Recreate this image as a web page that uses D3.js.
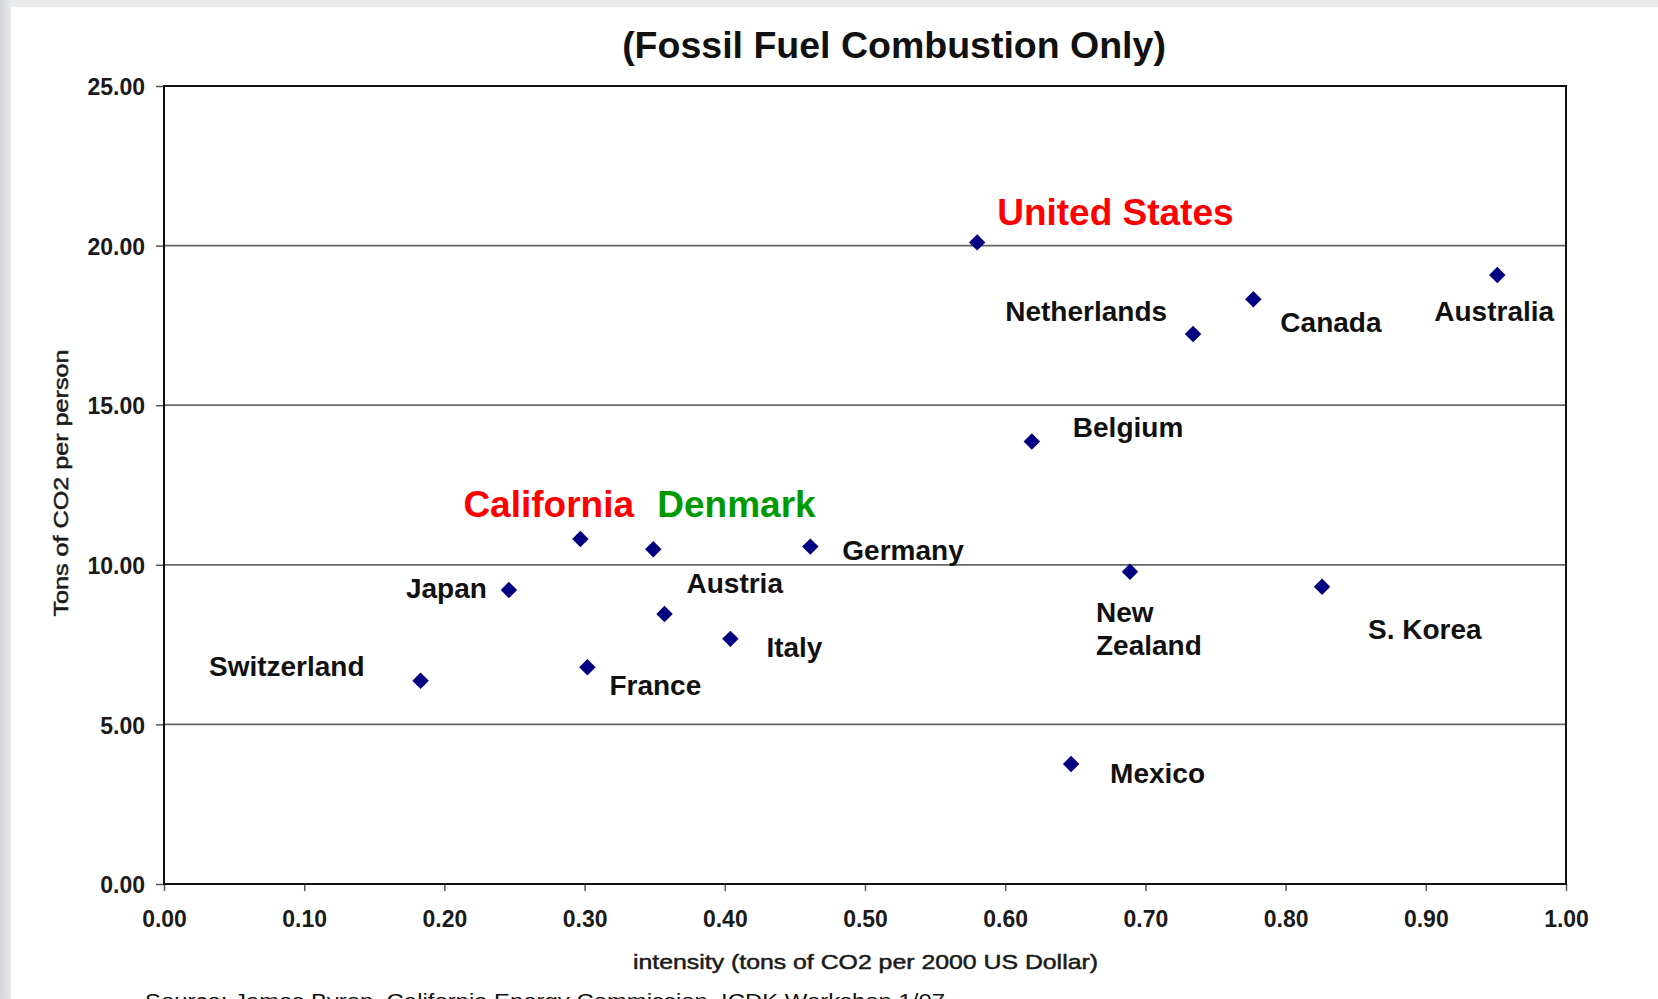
<!DOCTYPE html>
<html>
<head>
<meta charset="utf-8">
<script src="https://d3js.org/d3.v7.min.js"></script>
<style>
  body { margin: 0; background: #fff; overflow: hidden; }
  text { font-family: "Liberation Sans", Arial, sans-serif; }
</style>
</head>
<body>
<div id="chart"></div>
<script>
// Data
const countries = ["United States", "Australia", "Canada", "Netherlands", "Belgium",
    "California", "Denmark", "Germany", "New Zealand", "Japan", "S. Korea",
    "Austria", "Italy", "France", "Switzerland", "Mexico"];
const intensity = [0.580, 0.951, 0.777, 0.734, 0.619,
    0.297, 0.349, 0.461, 0.689, 0.246, 0.826,
    0.357, 0.404, 0.302, 0.183, 0.647];
const perCapita = [20.10, 19.08, 18.32, 17.23, 13.86,
    10.81, 10.49, 10.57, 9.78, 9.21, 9.31,
    8.46, 7.68, 6.79, 6.37, 3.76];
const xTicks = [0, 0.1, 0.2, 0.3, 0.4, 0.5, 0.6, 0.7, 0.8, 0.9, 1.0];
const yTicks = [0, 5, 10, 15, 20, 25];

// Label placement relative to each marker (layout only)
const labelPos = {
    "United States": { dx: 20, dy: -17, anchor: "start" },
    "Australia": { dx: -63, dy: 46, anchor: "start" },
    "Canada": { dx: 27, dy: 33, anchor: "start" },
    "Netherlands": { dx: -26, dy: -13, anchor: "end" },
    "Belgium": { dx: 41, dy: -5, anchor: "start" },
    "California": { dx: -117, dy: -22, anchor: "start" },
    "Denmark": { dx: 4, dy: -32, anchor: "start" },
    "Germany": { dx: 32, dy: 13, anchor: "start" },
    "New Zealand": { dx: -34, dy: 50, anchor: "start", lines: ["New", "Zealand"] },
    "Japan": { dx: -22, dy: 8, anchor: "end" },
    "S. Korea": { dx: 46, dy: 52, anchor: "start" },
    "Austria": { dx: 22, dy: -21, anchor: "start" },
    "Italy": { dx: 36, dy: 18, anchor: "start" },
    "France": { dx: 22, dy: 28, anchor: "start" },
    "Switzerland": { dx: -56, dy: -5, anchor: "end" },
    "Mexico": { dx: 39, dy: 19, anchor: "start" }
};
// Highlighted names get a larger coloured label
const highlight = { "United States": "#ff0000", "California": "#ff0000", "Denmark": "#009a00" };

const W = 1658, H = 999;
const plot = { left: 164, right: 1566, top: 86, bottom: 884 };

const svg = d3.select("#chart").append("svg")
    .attr("width", W)
    .attr("height", H);

// Slide background strips
const grad = svg.append("defs").append("linearGradient")
    .attr("id", "side").attr("x1", 0).attr("x2", 1).attr("y1", 0).attr("y2", 0);
grad.append("stop").attr("offset", 0).attr("stop-color", "#d3d5d8");
grad.append("stop").attr("offset", 1).attr("stop-color", "#e6e8ea");
svg.append("rect").attr("x", 0).attr("y", 0).attr("width", W).attr("height", 7).attr("fill", "#e8eaec");
svg.append("rect").attr("x", 0).attr("y", 0).attr("width", 11).attr("height", H).attr("fill", "url(#side)");

const x = d3.scaleLinear().domain([0, 1]).range([plot.left, plot.right]);
const y = d3.scaleLinear().domain([0, 25]).range([plot.bottom, plot.top]);

// Gridlines
svg.append("g")
    .selectAll("line")
    .data(yTicks.filter(t => t > 0 && t < 25))
    .enter()
    .append("line")
    .attr("x1", plot.left)
    .attr("x2", plot.right)
    .attr("y1", d => y(d))
    .attr("y2", d => y(d))
    .style("stroke", "#666")
    .style("stroke-width", 1.8);

// Y axis
const yAxis = svg.append("g")
    .attr("transform", `translate(${plot.left},0)`)
    .call(d3.axisLeft(y).tickValues(yTicks).tickFormat(d3.format(".2f")).tickSize(8).tickPadding(11));
yAxis.select(".domain").remove();
yAxis.selectAll(".tick line").style("stroke", "#555").style("stroke-width", 1.5);
yAxis.selectAll(".tick text")
    .attr("dy", "0.38em")
    .style("font-size", "23px")
    .style("font-weight", "bold")
    .style("fill", "#1a1a1a");

// X axis
const xAxis = svg.append("g")
    .attr("transform", `translate(0,${plot.bottom})`)
    .call(d3.axisBottom(x).tickValues(xTicks).tickFormat(d3.format(".2f")).tickSize(7).tickPadding(20));
xAxis.select(".domain").remove();
xAxis.selectAll(".tick line").style("stroke", "#555").style("stroke-width", 1.5);
xAxis.selectAll(".tick text")
    .style("font-size", "23px")
    .style("font-weight", "bold")
    .style("fill", "#1a1a1a");

// Plot frame
svg.append("rect")
    .attr("x", plot.left)
    .attr("y", plot.top)
    .attr("width", plot.right - plot.left)
    .attr("height", plot.bottom - plot.top)
    .style("fill", "none")
    .style("stroke", "#111")
    .style("stroke-width", 2);

// Title
svg.append("text")
    .attr("x", 894)
    .attr("y", 58)
    .attr("text-anchor", "middle")
    .style("font-size", "37.5px")
    .style("font-weight", "bold")
    .style("fill", "#111")
    .text("(Fossil Fuel Combustion Only)");

// Axis titles
svg.append("text")
    .attr("transform", "rotate(-90)")
    .attr("x", -483)
    .attr("y", 67.5)
    .attr("text-anchor", "middle")
    .attr("textLength", 267)
    .attr("lengthAdjust", "spacingAndGlyphs")
    .style("font-size", "20px")
    .style("fill", "#1a1a1a")
    .style("stroke", "#1a1a1a")
    .style("stroke-width", 0.5)
    .text("Tons of CO2 per person");

svg.append("text")
    .attr("x", 865.5)
    .attr("y", 969)
    .attr("text-anchor", "middle")
    .attr("textLength", 465)
    .attr("lengthAdjust", "spacingAndGlyphs")
    .style("font-size", "21px")
    .style("fill", "#1a1a1a")
    .style("stroke", "#1a1a1a")
    .style("stroke-width", 0.5)
    .text("intensity (tons of CO2 per 2000 US Dollar)");

// Source line (cut off by the bottom edge, as in the original slide)
svg.append("text")
    .attr("x", 145)
    .attr("y", 1008)
    .attr("textLength", 800)
    .attr("lengthAdjust", "spacingAndGlyphs")
    .style("font-size", "21px")
    .style("fill", "#111")
    .text("Source: James Byron, California Energy Commission, ICDK Workshop 1/07");

// Points
const points = countries.map((c, i) => ({ name: c, ix: intensity[i], pc: perCapita[i] }));

const diamond = d3.symbol().type(d3.symbolSquare).size(135);
svg.append("g")
    .selectAll("path")
    .data(points)
    .enter()
    .append("path")
    .attr("d", diamond)
    .attr("transform", d => `translate(${x(d.ix)},${y(d.pc)}) rotate(45)`)
    .style("fill", "#000080");

// Labels
const labels = svg.append("g")
    .selectAll("text")
    .data(points)
    .enter()
    .append("text")
    .attr("x", d => x(d.ix) + labelPos[d.name].dx)
    .attr("y", d => y(d.pc) + labelPos[d.name].dy)
    .attr("text-anchor", d => labelPos[d.name].anchor)
    .style("font-weight", "bold")
    .style("font-size", d => highlight[d.name] ? "37px" : "28px")
    .style("fill", d => highlight[d.name] || "#111");

labels.each(function(d) {
    const t = d3.select(this);
    const lines = labelPos[d.name].lines;
    if (lines) {
        lines.forEach((l, j) => {
            t.append("tspan")
                .attr("x", x(d.ix) + labelPos[d.name].dx)
                .attr("dy", j === 0 ? 0 : 33)
                .text(l);
        });
    } else {
        t.text(d.name);
    }
});
</script>
</body>
</html>
